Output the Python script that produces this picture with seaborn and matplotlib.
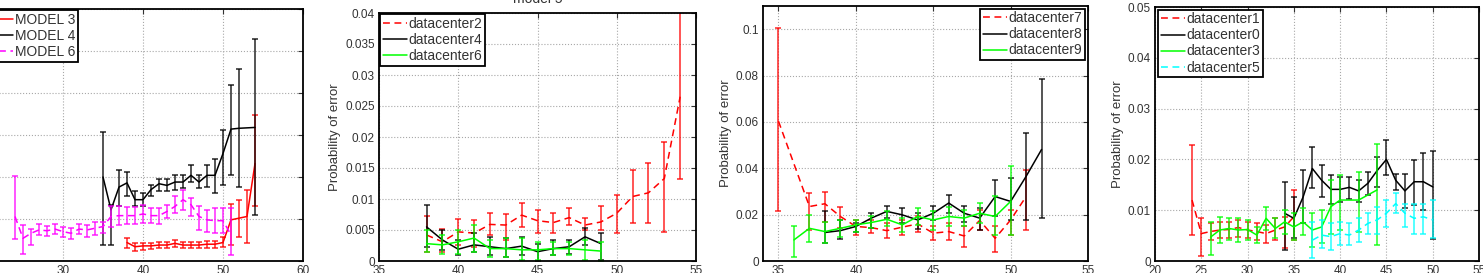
import numpy as np
import pandas as pd
import matplotlib
matplotlib.use('Agg')
import matplotlib.pyplot as plt
import seaborn as sns

# ---- panel 1: models ----
m3_x = list(range(38, 55))
m3_y = [.0022, .0017, .0018, .0018, .0019, .0019, .0021, .0019, .0019, .0019,
        .0020, .0020, .0022, .0049, .0051, .0053, .0116]
m3_lo = [.0015, .0012, .0013, .0014, .0015, .0015, .0017, .0015, .0015, .0015,
         .0016, .0016, .0017, .0019, .0029, .0021, .0065]
m3_hi = [.0027, .0021, .0022, .0022, .0023, .0023, .0025, .0023, .0023, .0023,
         .0024, .0024, .0028, .0068, .0073, .0085, .0174]

m4_x = list(range(35, 53)) + [54]
m4_y = [.0100, .0061, .0088, .0093, .0073, .0073, .0085, .0092, .0090, .0094,
        .0094, .0102, .0094, .0102, .0102, .0128, .0157, .0158, .0159]
m4_lo = [.0019, .0019, .0065, .0077, .0065, .0065, .0077, .0083, .0083, .0085,
         .0087, .0094, .0087, .0088, .0081, .0090, .0102, .0088, .0055]
m4_hi = [.0154, .0067, .0108, .0106, .0083, .0081, .0090, .0098, .0098, .0102,
         .0102, .0114, .0102, .0114, .0122, .0156, .0210, .0228, .0264]

m6_x = list(range(24, 52))
m6_y = [.0053, .0027, .0033, .0037, .0036, .0038, .0035, .0033, .0038, .0037,
        .0039, .0041, .0053, .0054, .0054, .0054, .0056, .0054, .0054, .0059,
        .0065, .0073, .0067, .0053, .0049, .0048, .0048, .0031]
m6_lo = [.0026, .0008, .0019, .0031, .0030, .0032, .0029, .0026, .0032, .0029,
         .0031, .0033, .0041, .0043, .0044, .0044, .0045, .0045, .0044, .0051,
         .0057, .0061, .0053, .0037, .0035, .0033, .0033, .0007]
m6_hi = [.0101, .0043, .0038, .0044, .0042, .0044, .0041, .0039, .0044, .0043,
         .0046, .0047, .0065, .0065, .0064, .0064, .0067, .0063, .0063, .0067,
         .0077, .0085, .0075, .0065, .0061, .0063, .0063, .0063]

# ---- panel 2: model 5 ----
dc2_x = list(range(38, 55))
dc2_y = [.0042, .0031, .0047, .0045, .0059, .0058, .0074, .0065, .0062, .0070,
         .0058, .0063, .0077, .0104, .0110, .0133, .0265]
dc2_lo = [.0015, .0015, .0026, .0023, .0042, .0034, .0055, .0045, .0045, .0058,
          .0050, .0050, .0045, .0062, .0062, .0047, .0133]
dc2_hi = [.0073, .0051, .0067, .0066, .0077, .0076, .0094, .0082, .0078, .0085,
          .0069, .0089, .0106, .0147, .0158, .0192, .0405]

dc4_x = list(range(38, 50))
dc4_y = [.0055, .0034, .0019, .0026, .0023, .0020, .0024, .0015, .0020, .0023,
         .0039, .0028]
dc4_lo = [.0023, .0018, .0010, .0015, .0010, .0007, .0010, .0000, .0010, .0012,
          .0026, .0002]
dc4_hi = [.0090, .0050, .0034, .0045, .0039, .0037, .0039, .0028, .0034, .0034,
          .0053, .0045]

dc6_x = list(range(38, 50))
dc6_y = [.0028, .0026, .0031, .0037, .0020, .0020, .0018, .0018, .0020, .0020,
         .0018, .0016]
dc6_lo = [.0015, .0012, .0012, .0015, .0007, .0007, .0002, .0002, .0010, .0010,
          .0002, .0000]
dc6_hi = [.0050, .0042, .0050, .0058, .0034, .0037, .0037, .0031, .0031, .0031,
          .0034, .0031]

# ---- panel 3 ----
dc7_x = [35] + list(range(37, 52))
dc7_y = [.0603, .0235, .0247, .0192, .0149, .0144, .0131, .0146, .0160, .0120,
         .0127, .0108, .0175, .0098, .0177, .0278]
dc7_lo = [.0216, .0134, .0170, .0141, .0113, .0120, .0098, .0113, .0127, .0091,
          .0091, .0062, .0134, .0040, .0113, .0134]
dc7_hi = [.1007, .0293, .0296, .0232, .0177, .0177, .0163, .0177, .0192, .0149,
          .0163, .0149, .0221, .0149, .0221, .0394]

dc8_x = list(range(38, 53))
dc8_y = [.0123, .0131, .0149, .0185, .0214, .0199, .0177, .0206, .0250, .0206,
         .0185, .0278, .0257, .0365, .0481]
dc8_lo = [.0076, .0094, .0127, .0141, .0185, .0166, .0137, .0177, .0206, .0170,
          .0134, .0192, .0177, .0177, .0185]
dc8_hi = [.0214, .0175, .0163, .0206, .0238, .0228, .0206, .0238, .0286, .0238,
          .0228, .0351, .0358, .0553, .0784]

dc9_x = list(range(36, 51))
dc9_y = [.0091, .0141, .0127, .0141, .0156, .0166, .0180, .0156, .0192, .0177,
         .0192, .0185, .0206, .0192, .0257]
dc9_lo = [.0016, .0084, .0076, .0105, .0127, .0141, .0149, .0127, .0156, .0134,
          .0149, .0149, .0163, .0113, .0113]
dc9_hi = [.0149, .0199, .0170, .0177, .0177, .0192, .0214, .0185, .0228, .0214,
          .0235, .0221, .0250, .0279, .0408]

# ---- panel 4 ----
dc1_x = list(range(24, 36))
dc1_y = [.0120, .0054, .0058, .0061, .0062, .0066, .0061, .0058, .0054, .0061,
         .0067, .0087]
dc1_lo = [.0051, .0009, .0041, .0045, .0045, .0048, .0045, .0041, .0035, .0041,
          .0025, .0041]
dc1_hi = [.0228, .0084, .0074, .0077, .0077, .0081, .0077, .0074, .0071, .0084,
          .0087, .0140]

dc0_x = list(range(34, 51))
dc0_y = [.0094, .0084, .0126, .0182, .0159, .0141, .0141, .0145, .0138, .0153,
         .0178, .0200, .0159, .0138, .0156, .0156, .0146]
dc0_lo = [.0022, .0045, .0074, .0143, .0126, .0113, .0117, .0123, .0117, .0130,
          .0146, .0169, .0140, .0104, .0110, .0100, .0043]
dc0_hi = [.0156, .0126, .0179, .0225, .0189, .0169, .0166, .0166, .0159, .0176,
          .0205, .0238, .0172, .0172, .0199, .0213, .0217]

dc3_x = list(range(26, 41)) + [42, 44]
dc3_y = [.0047, .0061, .0064, .0061, .0062, .0051, .0084, .0064, .0077, .0067,
         .0077, .0061, .0067, .0107, .0120, .0120, .0140]
dc3_lo = [.0012, .0035, .0041, .0038, .0041, .0035, .0061, .0045, .0054, .0041,
          .0051, .0028, .0035, .0054, .0061, .0058, .0031]
dc3_hi = [.0077, .0087, .0084, .0084, .0081, .0067, .0107, .0084, .0100, .0094,
          .0104, .0094, .0100, .0159, .0169, .0176, .0231]

dc5_x = list(range(37, 51))
dc5_y = [.0041, .0051, .0048, .0054, .0051, .0061, .0074, .0081, .0094, .0113,
         .0094, .0084, .0087, .0081]
dc5_lo = [.0005, .0025, .0022, .0031, .0031, .0038, .0054, .0054, .0067, .0094,
          .0067, .0054, .0054, .0045]
dc5_hi = [.0077, .0081, .0074, .0077, .0074, .0084, .0094, .0107, .0120, .0133,
          .0113, .0113, .0113, .0120]

RED, BLACK, MAG, GREEN, CYAN = '#ff0000', '#000000', '#ff00ff', '#00ff00', '#00ffff'
DASH = (0, (4.5, 3))

sns.set_style('whitegrid')
plt.rcParams['font.family'] = ['Liberation Sans', 'DejaVu Sans']
plt.rcParams['grid.linestyle'] = ':'
plt.rcParams['grid.color'] = '#a8a8a8'
plt.rcParams['grid.linewidth'] = 0.8

W, H = 1483, 273
fig = plt.figure(figsize=(W / 100, H / 100), dpi=100)


def add_ax(left, right, top, bottom):
    return fig.add_axes([left / W, (H - bottom) / H, (right - left) / W, (bottom - top) / H])


def series(ax, x, y, lo, hi, color, ls, label):
    df = pd.DataFrame({'x': x, 'y': y})
    sns.lineplot(data=df, x='x', y='y', ax=ax, color=color, linestyle=ls,
                 linewidth=1.1, label=label, estimator=None)
    y = np.asarray(y)
    err = [np.clip(y - np.asarray(lo), 0, None), np.clip(np.asarray(hi) - y, 0, None)]
    ax.errorbar(x, y, yerr=err, fmt='none', ecolor=color, elinewidth=1.1,
                capsize=2.2, capthick=1.1, alpha=0.85)


def style(ax, xlim, ylim, xt, yt, ylabels):
    ax.set_xlim(*xlim)
    ax.set_ylim(*ylim)
    ax.set_xticks(xt)
    ax.set_yticks(yt)
    ax.set_yticklabels(ylabels)
    ax.set_xlabel('')
    ax.set_ylabel('')
    ax.tick_params(direction='in', top=True, right=True, length=3.5, width=0.8,
                   labelsize=8.5, pad=3, colors='#333333', labelcolor='#333333')
    for s in ax.spines.values():
        s.set_color('black')
        s.set_linewidth(1.3)
    ax.grid(True)


def legend(ax, loc, anchor):
    leg = ax.legend(loc=loc, bbox_to_anchor=anchor, fontsize=10, frameon=True,
                    fancybox=False, framealpha=1, edgecolor='black',
                    borderpad=0.2, labelspacing=0.15, handlelength=1.7,
                    handletextpad=0.15, borderaxespad=0)
    leg.get_frame().set_linewidth(1.3)
    for t in leg.get_texts():
        t.set_color('#333333')


def fmt(vals):
    return ['0' if v == 0 else ('%g' % v) for v in vals]


# panel 1
ax1 = add_ax(-17, 303, 9, 261)
series(ax1, m3_x, m3_y, m3_lo, m3_hi, RED, '-', 'MODEL 3')
series(ax1, m4_x, m4_y, m4_lo, m4_hi, BLACK, '-', 'MODEL 4')
series(ax1, m6_x, m6_y, m6_lo, m6_hi, MAG, DASH, 'MODEL 6')
yt1 = [0, .005, .01, .015, .02, .025, .03]
style(ax1, (20, 60), (0, .03), [20, 30, 40, 50, 60], yt1, fmt(yt1))
legend(ax1, 'upper left', (0.01, 0.996))

# panel 2
ax2 = add_ax(379, 696, 13, 261)
series(ax2, dc2_x, dc2_y, dc2_lo, dc2_hi, RED, DASH, 'datacenter2')
series(ax2, dc4_x, dc4_y, dc4_lo, dc4_hi, BLACK, '-', 'datacenter4')
series(ax2, dc6_x, dc6_y, dc6_lo, dc6_hi, GREEN, '-', 'datacenter6')
yt2 = [0, .005, .01, .015, .02, .025, .03, .035, .04]
style(ax2, (35, 55), (0, .04), [35, 40, 45, 50, 55], yt2, fmt(yt2))
ax2.set_ylabel('Probability of error', fontsize=9.5, color='#333333', labelpad=3)
ax2.set_title('model 5', fontsize=10, color='#333333', pad=7)
legend(ax2, 'upper left', (0.004, 0.996))

# panel 3
ax3 = add_ax(763, 1088, 6, 261)
series(ax3, dc7_x, dc7_y, dc7_lo, dc7_hi, RED, DASH, 'datacenter7')
series(ax3, dc8_x, dc8_y, dc8_lo, dc8_hi, BLACK, '-', 'datacenter8')
series(ax3, dc9_x, dc9_y, dc9_lo, dc9_hi, GREEN, '-', 'datacenter9')
yt3 = [0, .02, .04, .06, .08, .1]
style(ax3, (34, 55), (0, .11), [35, 40, 45, 50, 55], yt3, fmt(yt3))
ax3.set_ylabel('Probability of error', fontsize=9.5, color='#333333', labelpad=3)
legend(ax3, 'upper right', (0.992, 0.99))

# panel 4
ax4 = add_ax(1155, 1479, 7, 261)
series(ax4, dc1_x, dc1_y, dc1_lo, dc1_hi, RED, DASH, 'datacenter1')
series(ax4, dc0_x, dc0_y, dc0_lo, dc0_hi, BLACK, '-', 'datacenter0')
series(ax4, dc3_x, dc3_y, dc3_lo, dc3_hi, GREEN, '-', 'datacenter3')
series(ax4, dc5_x, dc5_y, dc5_lo, dc5_hi, CYAN, DASH, 'datacenter5')
yt4 = [0, .01, .02, .03, .04, .05]
style(ax4, (20, 55), (0, .05), [20, 25, 30, 35, 40, 45, 50, 55], yt4, fmt(yt4))
ax4.set_ylabel('Probability of error', fontsize=9.5, color='#333333', labelpad=3)
legend(ax4, 'upper left', (0.01, 0.99))

fig.savefig('out.png', dpi=100)
